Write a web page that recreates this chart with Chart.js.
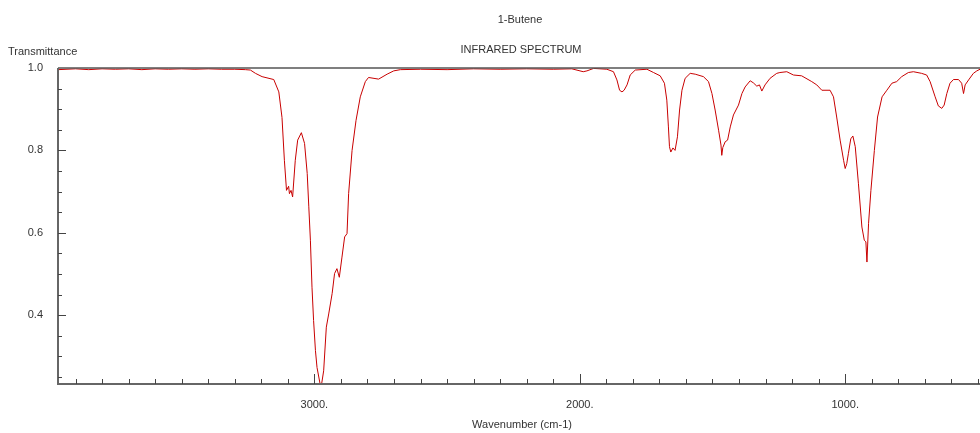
<!DOCTYPE html>
<html>
<head>
<meta charset="utf-8">
<script src="https://cdn.jsdelivr.net/npm/chart.js@4.4.1/dist/chart.umd.min.js"></script>
<style>
  html, body { margin: 0; padding: 0; background: #fff; }
  #wrap { width: 980px; height: 433px; }
</style>
</head>
<body>
<div id="wrap"><canvas id="spectrum" width="980" height="433"></canvas></div>
<script>
// Spectrum (wavenumber in cm-1, transmittance 0..1)
const wavenumbers = [
  3966, 3900, 3850, 3800, 3750, 3700, 3650, 3600, 3550, 3500, 3450, 3400, 3350, 3300, 3260,
  3241, 3222, 3197, 3153, 3134, 3122, 3113, 3105, 3097, 3094, 3088, 3082, 3072, 3063, 3049,
  3037, 3027, 3021, 3015, 3009, 3003, 2996, 2990, 2977, 2974, 2965, 2955, 2946, 2933, 2924,
  2915, 2906, 2896, 2886, 2877, 2871, 2858, 2843, 2827, 2808, 2796, 2758, 2726, 2701, 2676,
  2600, 2500, 2400, 2300, 2200, 2100, 2030, 1987, 1973, 1948, 1898, 1873, 1860, 1850, 1841,
  1833, 1822, 1810, 1791, 1747, 1722, 1697, 1681, 1672, 1666, 1662, 1657, 1649, 1641, 1632,
  1624, 1615, 1603, 1584, 1565, 1534, 1515, 1502, 1490, 1477, 1468, 1465, 1461, 1452, 1443,
  1433, 1421, 1402, 1389, 1377, 1358, 1346, 1333, 1323, 1314, 1302, 1283, 1258, 1246, 1220,
  1195, 1164, 1126, 1107, 1088, 1057, 1044, 1032, 1019, 1006, 1000, 994, 988, 979, 971,
  962, 950, 937, 928, 922, 918, 912, 903, 890, 878, 861, 843, 824, 806, 787,
  762, 743, 712, 693, 680, 661, 649, 636, 627, 617, 605, 592, 573, 561, 554,
  548, 535, 517, 504, 492
];
const transmittance = [
  0.996, 0.998, 0.996, 0.998, 0.997, 0.998, 0.996, 0.998, 0.997, 0.998, 0.997, 0.998, 0.997, 0.997, 0.996,
  0.995, 0.987, 0.979, 0.972, 0.942, 0.880, 0.776, 0.703, 0.713, 0.695, 0.703, 0.687, 0.776, 0.825, 0.843,
  0.817, 0.744, 0.663, 0.582, 0.468, 0.387, 0.314, 0.273, 0.228, 0.228, 0.265, 0.371, 0.403, 0.453, 0.501,
  0.513, 0.492, 0.541, 0.590, 0.598, 0.695, 0.800, 0.873, 0.930, 0.967, 0.977, 0.973, 0.985, 0.993, 0.996,
  0.997, 0.996, 0.998, 0.997, 0.998, 0.997, 0.998, 0.991, 0.993, 0.999, 0.997, 0.991, 0.971, 0.946, 0.942,
  0.946, 0.959, 0.983, 0.995, 0.997, 0.989, 0.981, 0.963, 0.922, 0.857, 0.809, 0.796, 0.806, 0.800, 0.833,
  0.898, 0.946, 0.975, 0.987, 0.985, 0.979, 0.967, 0.938, 0.898, 0.849, 0.813, 0.788, 0.807, 0.821, 0.825,
  0.857, 0.886, 0.910, 0.938, 0.954, 0.969, 0.964, 0.956, 0.959, 0.944, 0.959, 0.975, 0.987, 0.989, 0.991,
  0.983, 0.981, 0.967, 0.959, 0.946, 0.946, 0.930, 0.881, 0.825, 0.776, 0.756, 0.768, 0.792, 0.828, 0.835,
  0.809, 0.719, 0.614, 0.582, 0.578, 0.529, 0.622, 0.703, 0.800, 0.881, 0.930, 0.946, 0.963, 0.967, 0.979,
  0.989, 0.991, 0.987, 0.983, 0.967, 0.930, 0.908, 0.902, 0.910, 0.938, 0.963, 0.972, 0.972, 0.963, 0.938,
  0.959, 0.971, 0.987, 0.993, 0.997
];
const xTickValues = [1000, 2000, 3000];
const yTickValues = [0.4, 0.6, 0.8, 1.0];

const xMin = 492, xMax = 3966;
const yMin = 0.233, yMax = 1.0;

const FONT = '"Liberation Sans", Arial, sans-serif';
const FONT_SIZE = 11;
const TEXT_COLOR = '#333';
const AXIS_COLOR = '#666';

const points = wavenumbers.map((w, i) => ({ x: w, y: transmittance[i] }));

// texts, axis lines and the inward tick marks
const decor = {
  id: 'decor',
  afterDraw(chart) {
    const { ctx, chartArea: a, scales: { x, y } } = chart;
    ctx.save();
    ctx.fillStyle = TEXT_COLOR;
    ctx.font = FONT_SIZE + 'px ' + FONT;
    ctx.textBaseline = 'middle';
    ctx.textAlign = 'center';
    ctx.fillText('1-Butene', 520, 20);
    ctx.fillText('INFRARED SPECTRUM', 521, 50);
    ctx.fillText('Wavenumber (cm-1)', 522, 425);
    ctx.textAlign = 'left';
    ctx.fillText('Transmittance', 8, 52);

    // top line
    ctx.strokeStyle = '#555';
    ctx.lineWidth = 1.5;
    ctx.beginPath();
    ctx.moveTo(a.left, a.top);
    ctx.lineTo(a.right, a.top);
    ctx.stroke();

    // axes
    ctx.strokeStyle = AXIS_COLOR;
    ctx.lineWidth = 2;
    ctx.beginPath();
    ctx.moveTo(a.left, a.top);
    ctx.lineTo(a.left, a.bottom);
    ctx.lineTo(a.right, a.bottom);
    ctx.stroke();

    ctx.lineWidth = 1;
    ctx.strokeStyle = '#444';
    ctx.beginPath();
    for (let v = 500; v <= xMax; v += 100) {
      const px = Math.round(x.getPixelForValue(v)) + 0.5;
      const len = v % 1000 === 0 ? 10 : 5;
      ctx.moveTo(px, a.bottom);
      ctx.lineTo(px, a.bottom - len);
    }
    for (let k = 5; k < 20; k++) {
      const v = k * 0.05;
      if (v < yMin) continue;
      const py = Math.round(y.getPixelForValue(v)) + 0.5;
      const len = k % 4 === 0 ? 8 : 4;
      ctx.moveTo(a.left, py);
      ctx.lineTo(a.left + len, py);
    }
    ctx.stroke();
    ctx.restore();
  }
};

new Chart(document.getElementById('spectrum'), {
  type: 'line',
  data: {
    datasets: [{
      data: points,
      borderColor: '#c80000',
      borderWidth: 1,
      pointRadius: 0,
      tension: 0,
      fill: false
    }]
  },
  options: {
    responsive: false,
    animation: false,
    layout: { padding: { top: 68, left: 0, right: 0, bottom: 0 } },
    plugins: { legend: { display: false }, tooltip: { enabled: false } },
    scales: {
      x: {
        type: 'linear',
        reverse: true,
        min: xMin,
        max: xMax,
        afterBuildTicks: s => { s.ticks = xTickValues.map(v => ({ value: v })); },
        afterFit: s => { s.height = 49; },
        grid: { display: false, drawTicks: false },
        border: { display: false },
        ticks: {
          padding: 14,
          maxRotation: 0,
          autoSkip: false,
          color: TEXT_COLOR,
          font: { family: FONT, size: FONT_SIZE },
          callback: v => v + '.'
        }
      },
      y: {
        min: yMin,
        max: yMax,
        afterBuildTicks: s => { s.ticks = yTickValues.map(v => ({ value: v })); },
        afterFit: s => { s.width = 58; },
        grid: { display: false, drawTicks: false },
        border: { display: false },
        ticks: {
          padding: 15,
          color: TEXT_COLOR,
          font: { family: FONT, size: FONT_SIZE },
          callback: v => v.toFixed(1)
        }
      }
    }
  },
  plugins: [decor]
});
</script>
</body>
</html>
